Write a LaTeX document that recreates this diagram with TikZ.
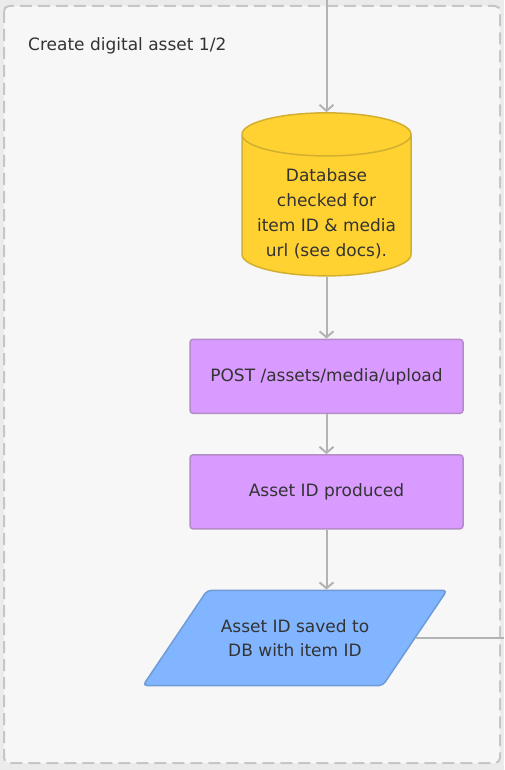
\documentclass[tikz,border=0pt]{standalone}
\usepackage{fontspec}
\setmainfont{DejaVu Sans}
\usepackage{xcolor}
\usetikzlibrary{arrows.meta,positioning,shapes.geometric}
\definecolor{cdaframe}{HTML}{C6C6C6}
\definecolor{cdaback}{HTML}{F7F7F7}
\definecolor{cdaline}{HTML}{B3B3B3}
\definecolor{cdatext}{HTML}{333333}
\definecolor{cdayellow}{HTML}{FFD232}
\definecolor{cdayellowd}{HTML}{D2AF30}
\definecolor{cdapurple}{HTML}{D99BFF}
\definecolor{cdapurpled}{HTML}{B48CC8}
\definecolor{cdablue}{HTML}{82B5FF}
\definecolor{cdablued}{HTML}{6F9BD6}
\tikzset{
  cdagroup/.style={draw=cdaframe, dashed, dash pattern=on 12pt off 6pt, line width=2pt, rounded corners=5pt, fill=cdaback},
  cdadb/.style={cylinder, shape border rotate=90, aspect=0.31, draw=cdayellowd, line width=1.5pt, fill=cdayellow, align=center, text=cdatext, font=\fontsize{17}{25}\selectfont, minimum width=169pt, minimum height=163pt, inner sep=0pt},
  cdastep/.style={draw=cdapurpled, line width=1.5pt, rounded corners=3pt, fill=cdapurple, align=center, text=cdatext, font=\fontsize{17}{20}\selectfont, minimum width=273pt, minimum height=74pt, inner sep=0pt},
  cdadata/.style={trapezium, trapezium left angle=56, trapezium right angle=124, trapezium stretches body, draw=cdablued, line width=1.5pt, rounded corners=4pt, fill=cdablue, align=center, text=cdatext, font=\fontsize{17}{24}\selectfont, minimum width=304pt, inner xsep=0pt, inner ysep=29pt},
  cdaarrow/.style={-{Straight Barb[length=6pt,width=14pt,line width=2pt]}, line width=2pt, draw=cdaline},
  cdaplain/.style={line width=2pt, draw=cdaline}
}
\begin{document}
\begin{tikzpicture}[x=1pt, y=-1pt, node distance=62pt]
\fill[color=black!8] (0,0) rectangle (504,770);
\useasboundingbox (0,0) rectangle (504,770);
\draw[cdagroup] (4,6) rectangle (500,763);
\node[anchor=base west, text=cdatext, font=\fontsize{17}{20}\selectfont, inner sep=0pt] (title) at (28,51) {Create digital asset 1/2};

\coordinate (entry) at (326.5,0);
\node[cdadb] (dbcheck) at (326.5,205.5) {\raisebox{-13pt}[0pt][0pt]{\begin{tabular}{@{}c@{}}Database\\checked for\\item ID \& media\\url (see docs).\end{tabular}}};
\node[cdastep, below=of dbcheck] (upload) {POST /assets/media/upload};
\node[cdastep, below=40pt of upload] (assetid) {Asset ID produced};
\node[cdadata, below=60pt of assetid, xshift=-31.5pt] (saved) {Asset ID saved to\\DB with item ID};
\coordinate (exit) at (504,0);

\draw[cdaarrow] (entry) -- (dbcheck.north);
\draw[cdaarrow] (dbcheck.south) -- (upload.north);
\draw[cdaarrow] (upload) -- (assetid);
\draw[cdaarrow] (assetid.south) -- (assetid.south |- saved.north);
\draw[cdaplain] (saved.east) -- (saved.east -| exit);
\end{tikzpicture}
\end{document}
